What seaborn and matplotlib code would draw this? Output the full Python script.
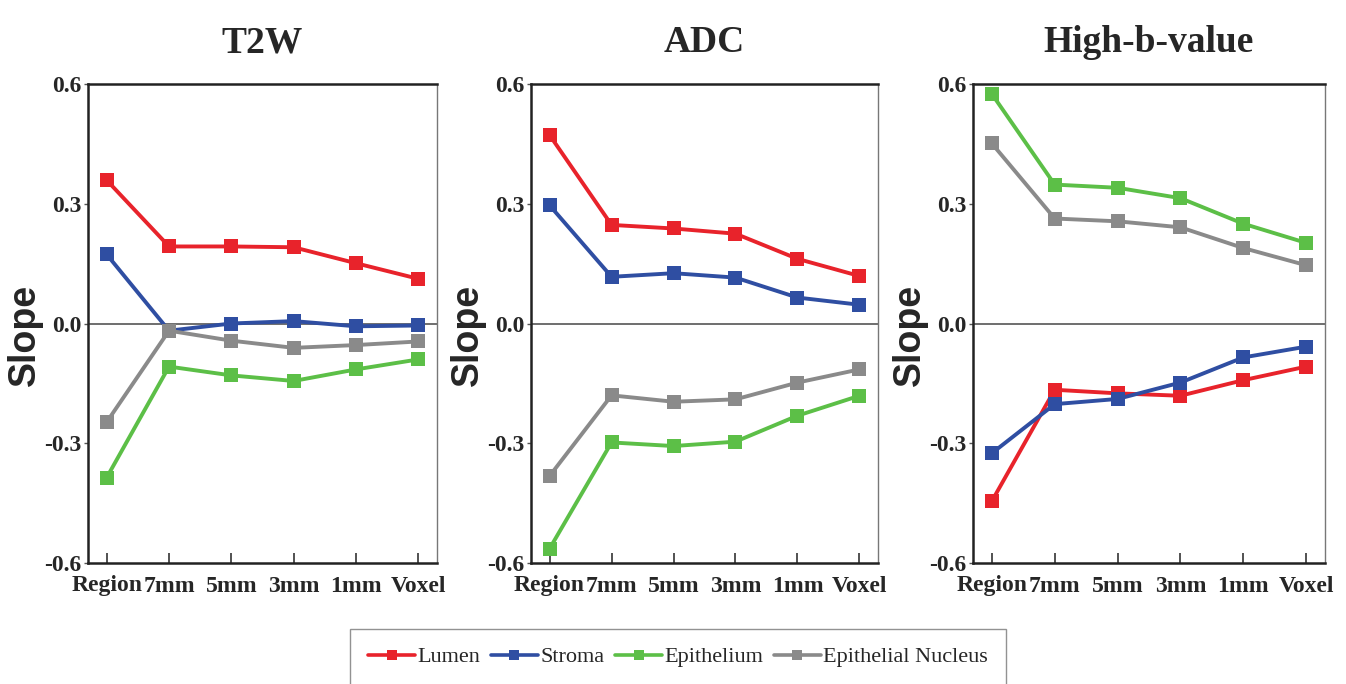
import matplotlib
matplotlib.use("Agg")
import matplotlib.pyplot as plt
from matplotlib.lines import Line2D
import seaborn as sns
import pandas as pd

sns.set_theme(style="white")
plt.rcParams['font.family'] = ['Liberation Serif', 'DejaVu Serif']

categories = ["Region", "7mm", "5mm", "3mm", "1mm", "Voxel"]
series_names = ["Lumen", "Stroma", "Epithelium", "Epithelial Nucleus"]
colors = ["#e8232b", "#2f4ea2", "#5cbf47", "#8a8a8a"]
panel_titles = ["T2W", "ADC", "High-b-value"]
y_ticks = [-0.6, -0.3, 0.0, 0.3, 0.6]

t2w_lumen = [0.359, 0.193, 0.193, 0.191, 0.151, 0.112]
t2w_stroma = [0.173, -0.018, 0.000, 0.006, -0.007, -0.005]
t2w_epithelium = [-0.386, -0.108, -0.130, -0.144, -0.115, -0.090]
t2w_nucleus = [-0.247, -0.018, -0.043, -0.061, -0.054, -0.045]

adc_lumen = [0.472, 0.247, 0.238, 0.225, 0.162, 0.119]
adc_stroma = [0.296, 0.117, 0.126, 0.115, 0.065, 0.047]
adc_epithelium = [-0.564, -0.298, -0.307, -0.296, -0.231, -0.181]
adc_nucleus = [-0.382, -0.180, -0.196, -0.190, -0.148, -0.115]

hb_lumen = [-0.445, -0.166, -0.175, -0.181, -0.142, -0.108]
hb_stroma = [-0.325, -0.202, -0.189, -0.148, -0.085, -0.058]
hb_epithelium = [0.575, 0.348, 0.340, 0.314, 0.250, 0.202]
hb_nucleus = [0.451, 0.263, 0.256, 0.241, 0.189, 0.146]

panels = [
    [t2w_lumen, t2w_stroma, t2w_epithelium, t2w_nucleus],
    [adc_lumen, adc_stroma, adc_epithelium, adc_nucleus],
    [hb_lumen, hb_stroma, hb_epithelium, hb_nucleus],
]

W, H = 1346, 684
fig = plt.figure(figsize=(W / 100, H / 100), dpi=100)

axes_px = [(88, 437), (531, 878), (973, 1325)]
top_px, bottom_px = 84, 563
palette = dict(zip(series_names, colors))

for (x0, x1), title, vals in zip(axes_px, panel_titles, panels):
    ax = fig.add_axes([x0 / W, 1 - bottom_px / H, (x1 - x0) / W, (bottom_px - top_px) / H])
    rows = []
    for name, v in zip(series_names, vals):
        for c, y in zip(categories, v):
            rows.append({"cat": c, "val": y, "series": name})
    df = pd.DataFrame(rows)
    ax.axhline(0, color="#555555", lw=1.2, zorder=1)
    sns.lineplot(data=df, x="cat", y="val", hue="series", style="series",
                 hue_order=series_names, style_order=series_names,
                 palette=palette, markers=["s"] * 4, dashes=False, sort=False,
                 linewidth=2.8, markersize=10, markeredgewidth=0,
                 legend=False, ax=ax, zorder=3)
    ax.set_xlim(-0.3, 5.3)
    ax.set_ylim(-0.6, 0.6)
    ax.set_yticks(y_ticks)
    ax.set_yticklabels([f"{t:.1f}" for t in y_ticks])
    ax.set_xticks(range(len(categories)))
    ax.set_xticklabels(categories)
    ax.set_xlabel("")
    ax.set_ylabel("Slope", family="Liberation Sans", fontweight="bold", fontsize=27)
    ax.yaxis.set_label_coords(-45 / (x1 - x0), (bottom_px - 335) / (bottom_px - top_px))
    ax.set_title(title, fontsize=27, fontweight="bold", pad=23)
    for lab in ax.get_xticklabels() + ax.get_yticklabels():
        lab.set_fontweight("bold")
        lab.set_fontsize(17)
    ax.tick_params(axis="x", direction="in", length=7, width=1.2, color="#333333", pad=9, bottom=True)
    ax.tick_params(axis="y", direction="out", length=3, width=1.0, color="#555555", pad=2, left=True)
    for side, sp in ax.spines.items():
        sp.set_visible(True)
        sp.set_color("#222222" if side in ("left", "bottom", "top") else "#777777")
        sp.set_linewidth(1.8 if side in ("left", "bottom", "top") else 1.0)

handles = [Line2D([0], [0], color=c, lw=2.6, marker="s", markersize=7, markeredgewidth=0)
           for c in colors]
leg = fig.legend(handles, series_names, loc="upper center", bbox_to_anchor=(678 / W, 1 - 629 / H),
                 ncol=4, frameon=True, fontsize=16, handlelength=2.1, handletextpad=0.1,
                 columnspacing=0.5, borderpad=0.8, borderaxespad=0, fancybox=False,
                 edgecolor="#777777")
leg.get_frame().set_linewidth(1.0)

fig.savefig("out.png", dpi=100)
